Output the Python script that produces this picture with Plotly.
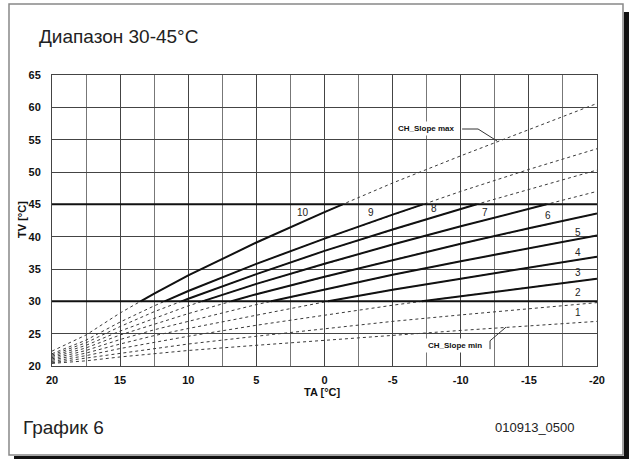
import plotly.graph_objects as go

# ---------------- data ----------------
TA = [20, 17.5, 15, 12.5, 10, 5, 0, -5, -10, -15, -20]

CURVE_1 = [20.4, 20.8, 21.4, 21.9, 22.4, 23.2, 24.0, 24.8, 25.5, 26.2, 26.9]
CURVE_2 = [20.5, 21.2, 22.0, 22.7, 23.4, 24.6, 25.8, 26.9, 27.9, 28.9, 29.8]
CURVE_3 = [20.7, 21.6, 22.7, 23.7, 24.6, 26.3, 27.9, 29.4, 30.8, 32.2, 33.5]
CURVE_4 = [20.9, 22.0, 23.4, 24.7, 25.8, 27.9, 29.9, 31.8, 33.5, 35.2, 36.9]
CURVE_5 = [21.1, 22.4, 24.1, 25.6, 26.9, 29.5, 31.8, 34.1, 36.2, 38.2, 40.2]
CURVE_6 = [21.3, 22.8, 24.8, 26.5, 28.1, 31.1, 33.8, 36.4, 38.9, 41.3, 43.6]
CURVE_7 = [21.5, 23.2, 25.4, 27.4, 29.3, 32.7, 35.8, 38.8, 41.6, 44.3, 47.0]
CURVE_8 = [21.7, 23.6, 26.1, 28.4, 30.4, 34.2, 37.8, 41.1, 44.3, 47.3, 50.3]
CURVE_9 = [21.9, 24.0, 26.8, 29.3, 31.6, 35.8, 39.7, 43.4, 47.0, 50.4, 53.6]
CURVE_10 = [22.3, 24.8, 28.2, 31.2, 34.0, 39.1, 43.8, 48.3, 52.5, 56.6, 60.6]

CURVES = [CURVE_1, CURVE_2, CURVE_3, CURVE_4, CURVE_5,
          CURVE_6, CURVE_7, CURVE_8, CURVE_9, CURVE_10]
CURVE_NAMES = ["1", "2", "3", "4", "5", "6", "7", "8", "9", "10"]

CLAMP_MIN = 30
CLAMP_MAX = 45

X_TICKS = [20, 15, 10, 5, 0, -5, -10, -15, -20]
Y_TICKS = [20, 25, 30, 35, 40, 45, 50, 55, 60, 65]

# label anchor positions (TA, TV) for the curve numbers
LABEL_POS = [(-18.6, 28.2), (-18.6, 31.4), (-18.6, 34.4), (-18.6, 37.5), (-18.6, 40.7),
             (-16.4, 43.3), (-11.8, 43.8), (-8.0, 44.4), (-3.4, 43.8), (1.6, 43.8)]


def clip_band(xs, ys, lo, hi):
    """Return the polyline restricted to lo<=y<=hi (gaps as None)."""
    px, py = [], []
    for i in range(len(xs)):
        px.append(xs[i]); py.append(ys[i])
        if i + 1 < len(xs):
            x0, y0, x1, y1 = xs[i], ys[i], xs[i + 1], ys[i + 1]
            cuts = []
            for lvl in (lo, hi):
                if (y0 - lvl) * (y1 - lvl) < 0:
                    t = (lvl - y0) / (y1 - y0)
                    cuts.append((t, x0 + t * (x1 - x0), lvl))
            for t, cx, cy in sorted(cuts):
                px.append(cx); py.append(cy)
    ox, oy = [], []
    for x, y in zip(px, py):
        ox.append(x)
        oy.append(y if lo - 1e-9 <= y <= hi + 1e-9 else None)
    return ox, oy


fig = go.Figure()

for vals, name in zip(CURVES, CURVE_NAMES):
    fig.add_trace(go.Scatter(x=TA, y=vals, mode="lines", name=name,
                             line=dict(color="#3a3a3a", width=1, dash="3px,3px"),
                             showlegend=False, hoverinfo="skip"))

for vals, name in zip(CURVES, CURVE_NAMES):
    sx, sy = clip_band(TA, vals, CLAMP_MIN, CLAMP_MAX)
    fig.add_trace(go.Scatter(x=sx, y=sy, mode="lines", name=name,
                             line=dict(color="#111111", width=2),
                             connectgaps=False, showlegend=False))

for lvl in (CLAMP_MIN, CLAMP_MAX):
    fig.add_hline(y=lvl, line=dict(color="#111111", width=2))

for (lx, ly), name in zip(LABEL_POS, CURVE_NAMES):
    fig.add_annotation(x=lx, y=ly, text=name, showarrow=False,
                       font=dict(family="Liberation Sans", size=10, color="#222"))

# CH_Slope labels and leaders
fig.add_annotation(x=-7.45, y=56.8, text="CH_Slope max", showarrow=False,
                   bgcolor="white", borderpad=2,
                   font=dict(family="Liberation Sans", size=8, color="#111", weight="bold"))
fig.add_shape(type="path", xref="x", yref="y",
              path="M -10.1 56.65 L -11.27 56.65 L -12.66 54.8",
              line=dict(color="#333", width=1))
fig.add_annotation(x=-9.6, y=23.2, text="CH_Slope min", showarrow=False,
                   bgcolor="white", borderpad=2,
                   font=dict(family="Liberation Sans", size=8, color="#111", weight="bold"))
fig.add_shape(type="path", xref="x", yref="y",
              path="M -12.15 22.6 L -12.15 23.9 L -13.32 26.0",
              line=dict(color="#333", width=1))

# texts outside the plot
fig.add_annotation(xref="paper", yref="paper", x=-0.0275, y=1.1306, xanchor="left",
                   yanchor="middle", text="Диапазон 30-45°C", showarrow=False,
                   font=dict(family="Liberation Sans", size=19, color="#222"))
fig.add_annotation(xref="paper", yref="paper", x=-0.057, y=-0.213, xanchor="left",
                   yanchor="middle", text="График 6", showarrow=False,
                   font=dict(family="Liberation Sans", size=19, color="#222"))
fig.add_annotation(xref="paper", yref="paper", x=0.963, y=-0.213, xanchor="right",
                   yanchor="middle", text="010913_0500", showarrow=False,
                   font=dict(family="Liberation Sans", size=13, color="#222"))
fig.add_annotation(xref="paper", yref="paper", x=0.497, y=-0.089, xanchor="center",
                   yanchor="middle", text="TA [°C]", showarrow=False,
                   font=dict(family="Liberation Sans", size=11, color="#111", weight="bold"))
fig.add_annotation(xref="paper", yref="paper", x=-0.055, y=0.502, xanchor="center",
                   yanchor="middle", text="TV [°C]", showarrow=False, textangle=-90,
                   font=dict(family="Liberation Sans", size=11, color="#111", weight="bold"))

# page frame with shadow
fig.add_shape(type="rect", xref="paper", yref="paper", x0=-0.0789, x1=1.0477,
              y0=-0.3058, y1=1.244, line=dict(color="#888", width=1.5), layer="below")
fig.add_shape(type="rect", xref="paper", yref="paper", x0=1.0495, x1=1.07,
              y0=-0.33, y1=1.2165, line=dict(width=0), fillcolor="#111")
fig.add_shape(type="rect", xref="paper", yref="paper", x0=-0.0697, x1=1.07,
              y0=-0.33, y1=-0.3093, line=dict(width=0), fillcolor="#111")

axis_font = dict(family="Liberation Sans", size=11, color="#111", weight="bold")
fig.update_xaxes(range=[20, -20], tickvals=X_TICKS, ticktext=[str(v) for v in X_TICKS],
                 showgrid=True, gridcolor="#444", gridwidth=1,
                 minor=dict(dtick=2.5, showgrid=True, gridcolor="#777", gridwidth=1),
                 showline=True, linecolor="#444", mirror=True, zeroline=False,
                 tickfont=axis_font, ticks="", ticklabelstandoff=4)
fig.update_yaxes(range=[20, 65], tickvals=Y_TICKS, ticktext=[str(v) for v in Y_TICKS],
                 showgrid=True, gridcolor="#444", gridwidth=1,
                 showline=True, linecolor="#444", mirror=True, zeroline=False,
                 tickfont=axis_font, ticks="", ticklabelstandoff=8)

fig.update_layout(width=629, height=459, margin=dict(l=52, r=32, t=75, b=93),
                  paper_bgcolor="white", plot_bgcolor="white", showlegend=False)

# remove the default page margin so the figure sits at the window's corner
fig.write_html("out.html", config={"displayModeBar": False},
               post_script="document.body.style.margin='0';"
                           "document.body.style.overflow='hidden';")
